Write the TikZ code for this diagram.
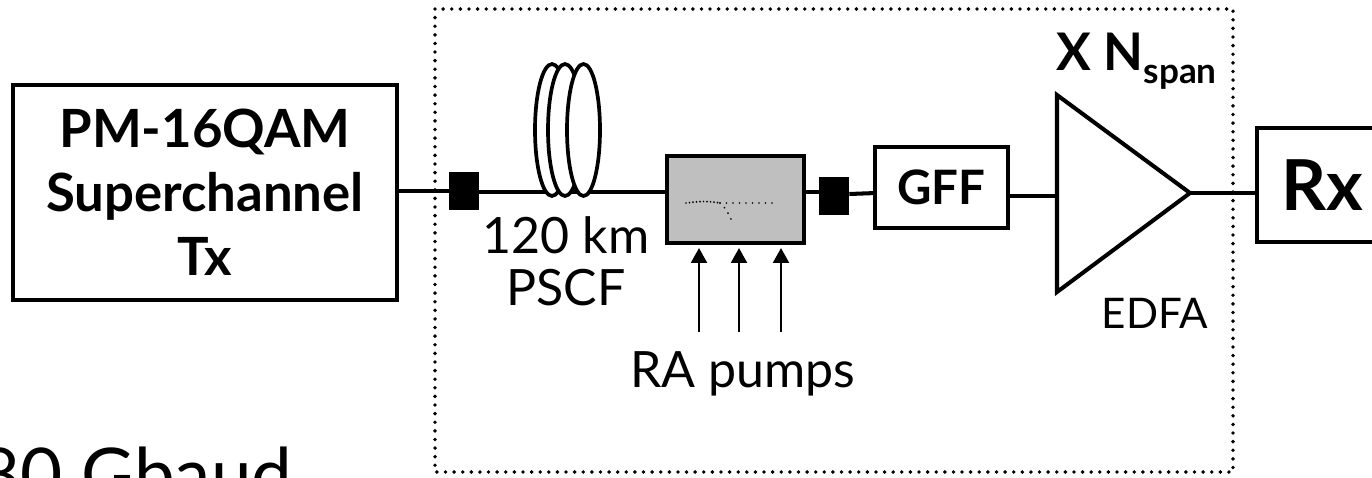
\documentclass[tikz,border=0pt]{standalone}
\usepackage{fontspec}
\setmainfont{Lato}
\usetikzlibrary{arrows.meta}
\tikzset{
 blockbox/.style={draw,line width=2.3pt,fill=white,align=center,inner sep=0pt},
 isolator/.style={draw=none,fill=black,minimum width=17pt,minimum height=22pt,inner sep=0pt},
 fiber/.style={line width=2.3pt},
 coil/.style={line width=2.1pt,fill=white},
 pump/.style={line width=1.5pt,-{Triangle[length=8.5pt,width=9pt]}},
 textlabel/.style={inner sep=0pt,align=center,font=\fontsize{28.5}{29.6}\selectfont}
}
\begin{document}
\begin{tikzpicture}[x=0.02cm,y=-0.02cm]
 \useasboundingbox (0,0) rectangle (1372,477);
 \clip (0,0) rectangle (1372,477);
 % span frame
 \draw[line width=2.2pt,line cap=round,dash pattern=on 0pt off 4.9pt] (435,9) rectangle (1233,472);
 % blocks
 \node[blockbox,minimum width=218.5pt,minimum height=122pt,font=\bfseries\fontsize{30}{36.4}\selectfont] (tx) at (205,192.5) {PM-16QAM\\Superchannel\\Tx};
 \node[isolator] (isoa) at (464,191) {};
 \node[isolator] (isob) at (834,196) {};
 \node[draw,line width=2.3pt,fill=black!25,minimum width=78pt,minimum height=49pt,inner sep=0pt] (ra) at (735.5,199.5) {};
 \node[blockbox,minimum width=75.5pt,minimum height=46.5pt,font=\bfseries\fontsize{27}{30}\selectfont] (gff) at (941.5,187.5) {GFF};
 \node[blockbox,minimum width=74pt,minimum height=65pt,font=\bfseries\fontsize{40}{44}\selectfont] (rx) at (1322,185) {Rx};
 \coordinate (ampin) at (1057,196);
 \coordinate (ampout) at (1190,193);
 \coordinate (gffin) at (876,193);
 % connectors
 \draw[fiber] (tx.east |- isoa) -- (isoa);
 \draw[fiber] (isoa.east |- ra.north) ++(0,38) coordinate (fibstart) -- (ra.west |- fibstart);
 \draw[fiber] (ra.east |- fibstart) -- (isob.west |- fibstart);
 \draw[fiber] (isob.east) ++(0,-2) -- (gffin);
 \draw[fiber] (gff.east |- ampin) -- (ampin);
 \draw[fiber] (ampout) -- (rx.west |- ampout);
 % fiber coil
 \draw[coil] (552,130) ellipse (17 and 66);
 \draw[coil] (565,130) ellipse (17 and 66);
 \draw[coil] (583.5,130) ellipse (16.5 and 66);
 % amplifier
 \draw[line width=2.3pt] (1057,95) -- (ampout) -- (1057,292) -- cycle;
 % gain curve
 \draw[line width=1.1pt,line cap=round,dash pattern=on 0pt off 2pt] (686,203) .. controls (700,201) and (708,201) .. (720,203);
 \draw[line width=1.1pt,line cap=round,dash pattern=on 0pt off 3.7pt] (720,203) -- (776,203);
 \draw[line width=1.1pt,line cap=round,dash pattern=on 0pt off 3.7pt] (720,203) .. controls (726,208) and (730,216) .. (733,224);
 % pumps
 \coordinate (pa) at (699,332);
 \coordinate (pb) at (739,332);
 \coordinate (pc) at (781,332);
 \draw[pump] (pa) -- (699,248);
 \draw[pump] (pb) -- (739,248);
 \draw[pump] (pc) -- (781,248);
 % labels
 \node[textlabel,anchor=base] (fib) at (566,305) {120 km\\PSCF};
 \node[textlabel,anchor=base] (pumps) at (742.5,387) {RA pumps};
 \node[textlabel,font=\fontsize{24}{26}\selectfont,anchor=base] (edfa) at (1155,328) {EDFA};
 \node[textlabel,font=\bfseries\fontsize{29.5}{32}\selectfont,anchor=base west] (nspan) at (1056,70) {X N\raisebox{-7.4pt}{\fontsize{20}{20}\selectfont span}};
 \node[textlabel,font=\fontsize{41.4}{44}\selectfont,anchor=base west] (baud) at (-22,500) {80 Gbaud};
\end{tikzpicture}
\end{document}
